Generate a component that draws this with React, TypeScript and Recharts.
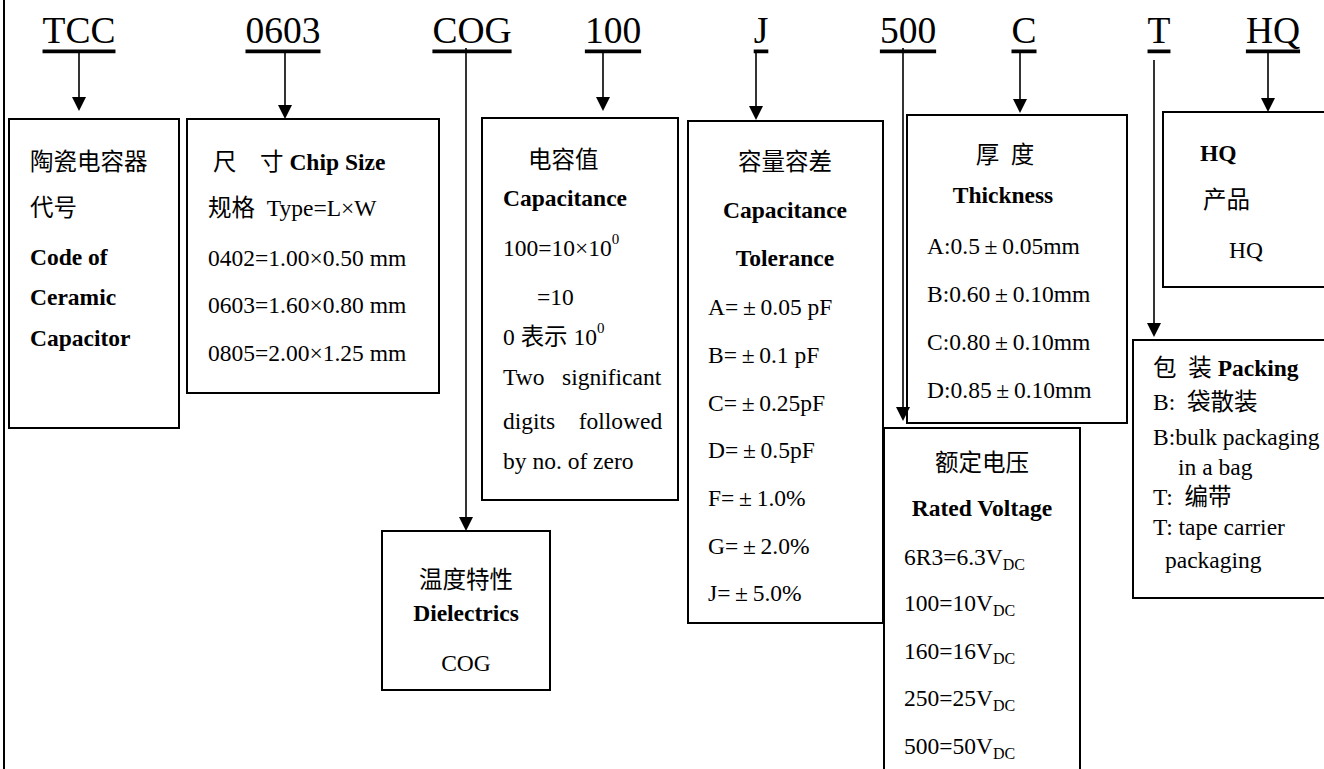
import { ScatterChart, Scatter, XAxis, YAxis, ReferenceArea, ReferenceLine } from 'recharts'

const W = 1324
const H = 769
const FONT = "'Liberation Serif', 'Noto Sans CJK SC', serif"

// part codes along the top
const CODES = ['TCC', '0603', 'COG', '100', 'J', '500', 'C', 'T', 'HQ']
const CODE_X = [79, 283, 472, 613, 761, 908, 1024, 1159, 1273]
const CODE_Y = 30

// arrows: shaft x, start y, tip y
const ARROW_X = [79, 285, 466, 603, 756, 903, 1020, 1154, 1268]
const ARROW_FROM = [50, 50, 48, 50, 52, 48, 50, 60, 50]
const ARROW_TO = [111, 119, 531, 111, 120, 421, 113, 337, 112]

// boxes [x1, y1, x2, y2]
const BOXES = [
  [9, 119, 179, 428],
  [187, 119, 439, 393],
  [382, 531, 550, 690],
  [482, 118, 678, 500],
  [688, 121, 883, 623],
  [907, 115, 1127, 423],
  [884, 428, 1080, 775],
  [1163, 112, 1330, 287],
  [1133, 340, 1330, 598],
]

// text lines: **bold**, _{sub}, ^{sup}
type Line = { x: number; y: number; t: string; mid?: boolean }
const TEXT: Line[] = [
  { x: 30, y: 162, t: '陶瓷电容器' },
  { x: 30, y: 208, t: '代号' },
  { x: 30, y: 257, t: '**Code of**' },
  { x: 30, y: 297, t: '**Ceramic**' },
  { x: 30, y: 338, t: '**Capacitor**' },

  { x: 213, y: 162, t: '尺　寸 **Chip Size**' },
  { x: 208, y: 208, t: '规格  Type=L×W' },
  { x: 208, y: 258, t: '0402=1.00×0.50 mm' },
  { x: 208, y: 305, t: '0603=1.60×0.80 mm' },
  { x: 208, y: 353, t: '0805=2.00×1.25 mm' },

  { x: 528, y: 160, t: '电容值' },
  { x: 503, y: 198, t: '**Capacitance**' },
  { x: 503, y: 248, t: '100=10×10^{0}' },
  { x: 537, y: 297, t: '=10' },
  { x: 503, y: 337, t: '0 表示 10^{0}' },
  { x: 503, y: 377, t: 'Two   significant' },
  { x: 503, y: 421, t: 'digits    followed' },
  { x: 503, y: 461, t: 'by no. of zero' },

  { x: 785, y: 162, t: '容量容差', mid: true },
  { x: 785, y: 210, t: '**Capacitance**', mid: true },
  { x: 785, y: 258, t: '**Tolerance**', mid: true },
  { x: 708, y: 307, t: 'A=±0.05 pF' },
  { x: 708, y: 355, t: 'B=±0.1 pF' },
  { x: 708, y: 403, t: 'C=±0.25pF' },
  { x: 708, y: 450, t: 'D=±0.5pF' },
  { x: 708, y: 498, t: 'F=±1.0%' },
  { x: 708, y: 546, t: 'G=±2.0%' },
  { x: 708, y: 593, t: 'J=±5.0%' },

  { x: 1005, y: 155, t: '厚  度', mid: true },
  { x: 1003, y: 195, t: '**Thickness**', mid: true },
  { x: 927, y: 246, t: 'A:0.5±0.05mm' },
  { x: 927, y: 294, t: 'B:0.60±0.10mm' },
  { x: 927, y: 342, t: 'C:0.80±0.10mm' },
  { x: 927, y: 390, t: 'D:0.85±0.10mm' },

  { x: 1200, y: 153, t: '**HQ**' },
  { x: 1203, y: 200, t: '产品' },
  { x: 1229, y: 250, t: 'HQ' },

  { x: 1153, y: 368, t: '包  装 **Packing**' },
  { x: 1153, y: 402, t: 'B:  袋散装' },
  { x: 1153, y: 437, t: 'B:bulk packaging' },
  { x: 1178, y: 467, t: 'in a bag' },
  { x: 1153, y: 497, t: 'T:  编带' },
  { x: 1153, y: 527, t: 'T: tape carrier' },
  { x: 1165, y: 560, t: 'packaging' },

  { x: 466, y: 580, t: '温度特性', mid: true },
  { x: 466, y: 613, t: '**Dielectrics**', mid: true },
  { x: 466, y: 663, t: 'COG', mid: true },

  { x: 982, y: 463, t: '额定电压', mid: true },
  { x: 982, y: 508, t: '**Rated Voltage**', mid: true },
  { x: 904, y: 557, t: '6R3=6.3V_{DC}' },
  { x: 904, y: 603, t: '100=10V_{DC}' },
  { x: 904, y: 651, t: '160=16V_{DC}' },
  { x: 904, y: 698, t: '250=25V_{DC}' },
  { x: 904, y: 746, t: '500=50V_{DC}' },
]

const codeData = CODES.map((c, i) => ({ x: CODE_X[i], y: CODE_Y, label: c }))
const tipData = ARROW_X.map((x, i) => ({ x, y: ARROW_TO[i] }))

function rich(t: string) {
  // the plus-minus sign is set full width in the original
  const parts = t.replace(/±/g, '\u2009±\u2009').split(/(\*\*[^*]+\*\*|_\{[^}]+\}|\^\{[^}]+\})/).filter(Boolean)
  return parts.map((p, i) => {
    if (p.startsWith('**')) return <tspan key={i} fontWeight="bold">{p.slice(2, -2)}</tspan>
    if (p.startsWith('_{')) return <tspan key={i} fontSize={16} dy={7}>{p.slice(2, -1)}</tspan>
    if (p.startsWith('^{')) return <tspan key={i} fontSize={15} dy={-9}>{p.slice(2, -1)}</tspan>
    return <tspan key={i}>{p}</tspan>
  })
}

const TextShape = (props: any) => {
  const { cx, cy, payload } = props
  return (
    <text
      x={cx}
      y={cy}
      fontFamily={FONT}
      fontSize={23.5}
      fill="#000"
      dominantBaseline="central"
      textAnchor={payload.mid ? 'middle' : 'start'}
      style={{ whiteSpace: 'pre' }}
    >
      {rich(payload.t)}
    </text>
  )
}

const CodeShape = (props: any) => {
  const { cx, cy, payload } = props
  return (
    <text
      x={cx}
      y={cy}
      fontFamily={FONT}
      fontSize={37.5}
      fill="#000"
      dominantBaseline="central"
      textAnchor="middle"
      style={{ textDecoration: 'underline' }}
    >
      {payload.label}
    </text>
  )
}

const TipShape = (props: any) => {
  const { cx, cy } = props
  return <polygon points={`${cx - 7},${cy - 14} ${cx + 7},${cy - 14} ${cx},${cy}`} fill="#000" />
}

export default function App() {
  return (
    <div style={{ position: 'absolute', left: 0, top: 0, width: W, height: H, background: '#fff' }}>
      <ScatterChart width={W} height={H} margin={{ top: 0, right: 0, bottom: 0, left: 0 }}>
        <XAxis type="number" dataKey="x" domain={[0, W]} hide />
        <YAxis type="number" dataKey="y" domain={[0, H]} reversed hide />
        {BOXES.map(([x1, y1, x2, y2], i) => (
          <ReferenceArea
            key={`b${i}`}
            x1={x1}
            x2={x2}
            y1={y1}
            y2={y2}
            fill="none"
            stroke="#000"
            strokeWidth={2}
            ifOverflow="visible"
          />
        ))}
        <ReferenceLine x={4} stroke="#000" strokeWidth={2} />
        {ARROW_X.map((x, i) => (
          <ReferenceLine
            key={`a${i}`}
            segment={[
              { x, y: ARROW_FROM[i] },
              { x, y: ARROW_TO[i] - 10 },
            ]}
            stroke="#000"
            strokeWidth={1.6}
          />
        ))}
        <Scatter data={tipData} shape={TipShape} isAnimationActive={false} />
        <Scatter data={codeData} shape={CodeShape} isAnimationActive={false} />
        <Scatter data={TEXT} shape={TextShape} isAnimationActive={false} />
      </ScatterChart>
    </div>
  )
}
